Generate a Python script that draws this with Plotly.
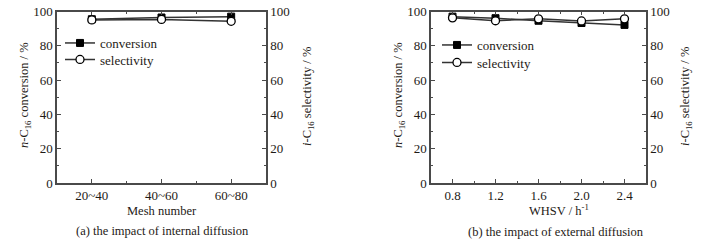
import plotly.graph_objects as go

# ---- data ----
mesh_labels = ["20~40", "40~60", "60~80"]
mesh_pos = [0, 1, 2]
mesh_conversion = [95.5, 96.5, 97.0]
mesh_selectivity = [95.1, 95.4, 94.3]

whsv = [0.8, 1.2, 1.6, 2.0, 2.4]
whsv_labels = ["0.8", "1.2", "1.6", "2.0", "2.4"]
whsv_conversion = [97.0, 96.1, 94.6, 93.3, 92.2]
whsv_selectivity = [96.3, 94.6, 95.7, 94.5, 95.7]

W, H = 728, 243
FONT = "Liberation Serif"
AX = "#4a4a4a"
TXT = "#1e1a16"
LINE = "#333333"


def px(x):
    return x / W


def py(y):
    return 1 - y / H


fig = go.Figure()


def add_pair(xs, conv, sel, xa, ya, leg_c, leg_s):
    fig.add_trace(go.Scatter(
        x=xs, y=conv, mode="lines+markers", name="conversion",
        line=dict(color=LINE, width=1.5),
        marker=dict(symbol="square", size=7, color="#000000", line=dict(color="#000", width=1)),
        xaxis=xa, yaxis=ya, legend=leg_c))
    fig.add_trace(go.Scatter(
        x=xs, y=sel, mode="lines+markers", name="selectivity",
        line=dict(color=LINE, width=1.5),
        marker=dict(symbol="circle", size=8, color="#ffffff", line=dict(color="#000", width=1.3)),
        xaxis=xa, yaxis=ya, legend=leg_s))


add_pair(mesh_pos, mesh_conversion, mesh_selectivity, "x", "y", "legend", "legend2")
add_pair(whsv, whsv_conversion, whsv_selectivity, "x2", "y3", "legend3", "legend4")

# dummy traces to activate right axes
fig.add_trace(go.Scatter(x=[None], y=[None], xaxis="x", yaxis="y2", showlegend=False))
fig.add_trace(go.Scatter(x=[None], y=[None], xaxis="x2", yaxis="y4", showlegend=False))

y_dom = [py(183), py(11.5)]
xd1 = [px(57), px(266)]
xd2 = [px(431), px(646)]

tickfont = dict(family=FONT, size=13, color=TXT)


def yaxis_common(side, **kw):
    d = dict(range=[0, 100], dtick=20, tick0=0, ticks="inside", ticklen=4,
             tickcolor=AX, tickwidth=1, showline=True, linecolor=AX, linewidth=1.5,
             showgrid=False, zeroline=False, domain=y_dom, side=side, automargin=False,
             tickfont=tickfont,
             minor=dict(ticks="inside", ticklen=2.5, dtick=10, tickcolor=AX, showgrid=False))
    d.update(kw)
    return d


def xaxis_common(**kw):
    d = dict(ticks="inside", ticklen=4, tickcolor=AX, showline=True, linecolor=AX,
             linewidth=1.5, mirror="ticks", showgrid=False, zeroline=False,
             tickfont=tickfont, automargin=False)
    d.update(kw)
    return d


def leg(x, y):
    return dict(x=px(x), y=py(y), xanchor="left", yanchor="top", bgcolor="rgba(0,0,0,0)",
                font=dict(family=FONT, size=13, color=TXT), tracegroupgap=0, itemwidth=30)


fig.update_layout(
    width=W, height=H,
    margin=dict(l=0, r=0, t=0, b=0, autoexpand=False),
    paper_bgcolor="white", plot_bgcolor="white",
    font=dict(family=FONT, color=TXT),
    xaxis=xaxis_common(domain=xd1, anchor="y", range=[-0.5, 2.5], tickvals=mesh_pos,
                       ticktext=mesh_labels,
                       minor=dict(tickvals=[0.5, 1.5], ticks="inside", ticklen=2.5, tickcolor=AX)),
    xaxis2=xaxis_common(domain=xd2, anchor="y3", range=[0.6, 2.6], tickvals=whsv,
                        ticktext=whsv_labels,
                        minor=dict(tickvals=[1.0, 1.4, 1.8, 2.2], ticks="inside", ticklen=2.5,
                                   tickcolor=AX)),
    yaxis=yaxis_common("left", anchor="x"),
    yaxis2=yaxis_common("right", anchor="x", overlaying="y"),
    yaxis3=yaxis_common("left", anchor="x2"),
    yaxis4=yaxis_common("right", anchor="x2", overlaying="y3"),
    legend=leg(60, 28),
    legend2=leg(60, 44.5),
    legend3=leg(437, 30),
    legend4=leg(437, 47.5),
    showlegend=True,
)

ytl = "<i>n</i>-C<sub>16</sub> conversion / %"
ytr = "<i>i</i>-C<sub>16</sub> selectivity / %"

texts = [
    (ytl, 25, 95, -90, 12.5),
    (ytr, 308, 97, -90, 12.5),
    (ytl, 399, 95, -90, 12.5),
    (ytr, 686, 97, -90, 12.5),
    ("Mesh number", 162, 211, 0, 12.5),
    ("WHSV / h<sup>-1</sup>", 559, 210, 0, 12.5),
    ("(a) the impact of internal diffusion", 162, 231, 0, 12.5),
    ("(b) the impact of external diffusion", 556, 232, 0, 12.5),
]
for t, x, y, ang, sz in texts:
    fig.add_annotation(text=t, x=px(x), y=py(y), xref="paper", yref="paper",
                       showarrow=False, textangle=ang, xanchor="center", yanchor="middle",
                       font=dict(family=FONT, size=sz, color=TXT))

fig.write_html("out.html", config={"displayModeBar": False},
               post_script="document.body.style.margin='0';")
